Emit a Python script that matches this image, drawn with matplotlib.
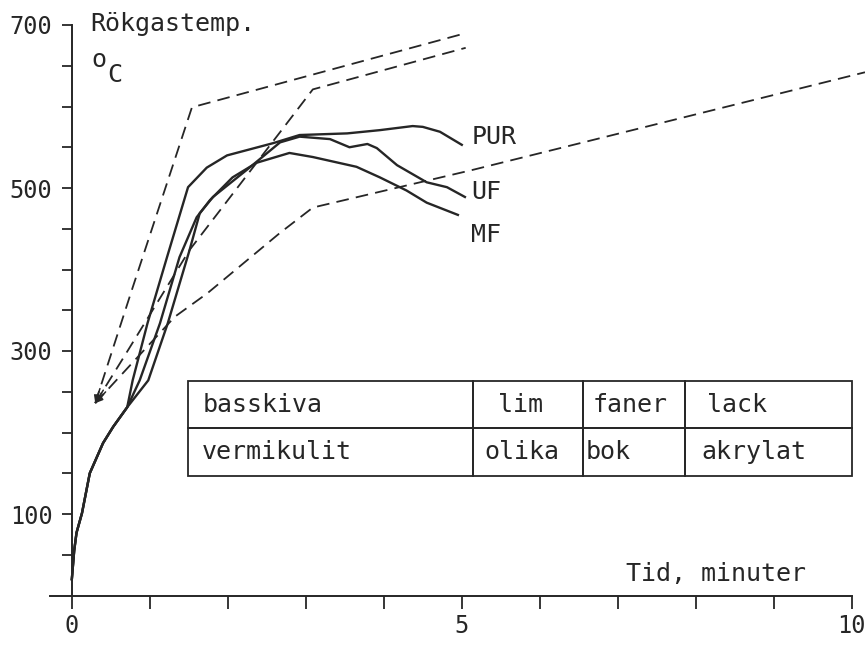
import numpy as np
import matplotlib
matplotlib.use('Agg')
import matplotlib.pyplot as plt

# smoke temperature curves (minutes, deg C)
time_pur = [0, 0.03, 0.06, 0.13, 0.23, 0.40, 0.53, 0.71, 0.78, 0.97, 1.22, 1.49, 1.73, 1.99, 2.58, 2.92, 3.53, 3.95, 4.37, 4.50, 4.72, 5.00]
temp_pur = [20, 55, 77, 101, 150, 187, 207, 231, 264, 334, 415, 501, 525, 540, 555, 565, 567, 571, 576, 575, 569, 553]

time_uf = [0, 0.03, 0.06, 0.13, 0.23, 0.40, 0.53, 0.71, 0.98, 1.23, 1.51, 1.64, 1.81, 2.24, 2.67, 2.92, 3.31, 3.56, 3.79, 3.91, 4.17, 4.55, 4.81, 5.04]
temp_uf = [20, 55, 77, 101, 150, 187, 207, 231, 264, 334, 424, 469, 489, 522, 556, 563, 560, 550, 554, 549, 528, 507, 501, 489]

time_mf = [0, 0.03, 0.06, 0.13, 0.23, 0.40, 0.53, 0.71, 0.87, 1.13, 1.38, 1.60, 1.77, 2.06, 2.37, 2.79, 3.09, 3.65, 3.95, 4.29, 4.55, 4.95]
temp_mf = [20, 55, 77, 101, 150, 187, 207, 231, 264, 334, 415, 464, 485, 513, 531, 543, 538, 526, 513, 497, 482, 467]

curve_names = ['PUR', 'UF', 'MF']
label_y = [562, 495, 442]

# dashed reference lines, all starting at the arrow point
ref_a_x = [0.30, 0.77, 1.54, 5.05]
ref_a_y = [236, 375, 599, 690]
ref_b_x = [0.30, 0.65, 1.51, 2.69, 3.09, 5.05]
ref_b_y = [236, 290, 424, 571, 621, 672]
ref_c_x = [0.30, 1.32, 1.74, 2.67, 3.09, 5.13, 10.17]
ref_c_y = [236, 342, 371, 445, 476, 522, 642]

table_rows = [['basskiva', 'lim', 'faner', 'lack'],
              ['vermikulit', 'olika', 'bok', 'akrylat']]

x_major = [0, 5, 10]
x_minor = [1, 2, 3, 4, 6, 7, 8, 9]
y_major = [100, 300, 500, 700]
y_minor = [50, 150, 200, 250, 350, 400, 450, 550, 600, 650]


plt.rcParams['font.family'] = 'DejaVu Sans Mono'
ink = '#262626'

fig = plt.figure(figsize=(8.65, 6.47), dpi=100)
ax = fig.add_axes([50 / 865, 51.5 / 647, 815 / 865, 570.5 / 647])
ax.set_xlim(-0.28, 10.17)
ax.set_ylim(0, 700)

for xs, ys in [(ref_a_x, ref_a_y), (ref_b_x, ref_b_y), (ref_c_x, ref_c_y)]:
    ax.plot(xs, ys, color=ink, lw=1.3, dashes=(7, 4), clip_on=False)
    # arrow head at the common start point
    p0 = ax.transData.transform((xs[0], ys[0]))
    p1 = ax.transData.transform((xs[1], ys[1]))
    d = (p1 - p0) / np.hypot(*(p1 - p0))
    ax.annotate('', xy=(xs[0], ys[0]), xytext=(d[0] * 11, d[1] * 11), textcoords='offset points',
                arrowprops=dict(arrowstyle='-|>', color=ink, lw=1.1, mutation_scale=11, shrinkA=0, shrinkB=0))

for xs, ys, name, ly in zip([time_pur, time_uf, time_mf], [temp_pur, temp_uf, temp_mf], curve_names, label_y):
    ax.plot(xs, ys, color=ink, lw=1.7)
    ax.text(5.12, ly, name, fontsize=18, color=ink, ha='left', va='center')

# table of materials
col_x = [1.49, 5.14, 6.55, 7.86, 10.0]
row_y = [147, 263]
(x0, y0), (x1, y1) = ax.transLimits.transform([(col_x[0], row_y[0]), (col_x[-1], row_y[1])])
widths = np.diff(col_x) / (col_x[-1] - col_x[0])
tab = ax.table(cellText=table_rows, cellLoc='left', colWidths=list(widths), bbox=[x0, y0, x1 - x0, y1 - y0])
tab.auto_set_font_size(False)
tab.set_fontsize(18)
pads = [[0.05, 0.23, 0.10, 0.13], [0.05, 0.11, 0.03, 0.10]]
for (r, c), cell in tab.get_celld().items():
    cell.set_edgecolor(ink)
    cell.set_linewidth(1.3)
    cell.set_facecolor('none')
    cell.PAD = pads[r][c]
    cell.get_text().set_color(ink)

# axis labels drawn as text, like the original
ax.text(0.24, 693, 'Rökgastemp.', fontsize=18, color=ink, ha='left', va='baseline', clip_on=False)
ax.text(0.25, 648, 'o', fontsize=18, color=ink, ha='left', va='baseline', clip_on=False)
ax.text(0.45, 630, 'C', fontsize=18, color=ink, ha='left', va='baseline', clip_on=False)
ax.text(7.10, 18, 'Tid, minuter', fontsize=18, color=ink, ha='left', va='baseline')

for side in ['top', 'right']:
    ax.spines[side].set_visible(False)
ax.spines['left'].set_position(('data', 0))
ax.spines['left'].set_bounds(0, 700)
ax.spines['bottom'].set_bounds(-0.28, 10)
for side in ['left', 'bottom']:
    ax.spines[side].set_color(ink)
    ax.spines[side].set_linewidth(1.4)

ax.set_xticks(x_major)
ax.set_xticks(x_minor, minor=True)
ax.set_yticks(y_major)
ax.set_yticks(y_minor, minor=True)
ax.tick_params(axis='x', which='both', direction='out', length=9, width=1.3, color=ink, labelsize=17, labelcolor=ink, pad=4)
ax.tick_params(axis='y', which='both', direction='out', length=7, width=1.3, color=ink, labelsize=17, labelcolor=ink, pad=7)

fig.savefig('out.png', dpi=100)
